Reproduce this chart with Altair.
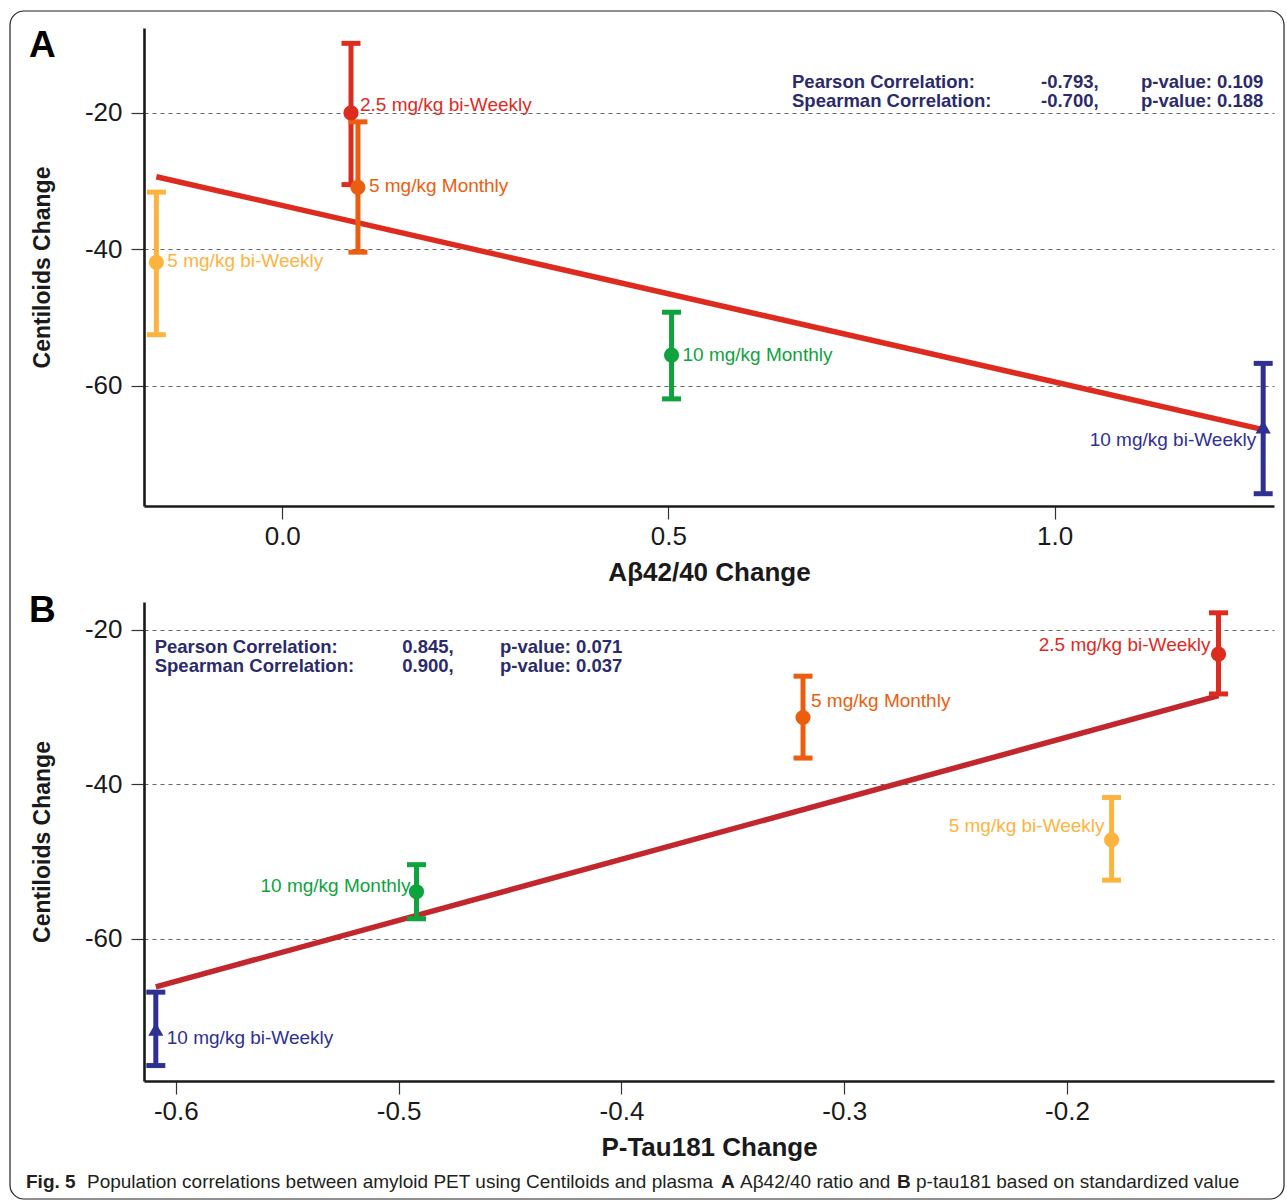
import altair as alt
import pandas as pd

# ---------------- data ----------------
groups = ["2.5 mg/kg bi-Weekly", "5 mg/kg Monthly", "5 mg/kg bi-Weekly",
          "10 mg/kg Monthly", "10 mg/kg bi-Weekly"]

# Panel A: Abeta42/40 change vs Centiloids change
abeta_change = [0.089, 0.098, -0.163, 0.504, 1.270]
abeta_centiloid = [-20.0, -30.9, -41.9, -55.5, -66.0]
abeta_lower = [-30.5, -40.4, -52.5, -61.9, -75.8]
abeta_upper = [-9.8, -21.3, -31.6, -49.2, -56.7]

# Panel B: P-Tau181 change vs Centiloids change
ptau_change = [-0.132, -0.3185, -0.180, -0.492, -0.609]
ptau_centiloid = [-23.15, -31.35, -47.2, -53.9, -71.7]
ptau_lower = [-28.3, -36.6, -52.4, -57.4, -76.4]
ptau_upper = [-17.8, -26.0, -41.7, -50.4, -66.9]

abeta_xticks = [0.0, 0.5, 1.0]
ptau_xticks = [-0.6, -0.5, -0.4, -0.3, -0.2]
y_ticks = [-60, -40, -20]

stats_a = [["Pearson Correlation:", "Spearman Correlation:"],
           ["-0.793,", "-0.700,"],
           ["p-value: 0.109", "p-value: 0.188"]]
stats_b = [["Pearson Correlation:", "Spearman Correlation:"],
           ["0.845,", "0.900,"],
           ["p-value: 0.071", "p-value: 0.037"]]

caption_parts = [("Fig. 5", "bold"),
                 ("Population correlations between amyloid PET using Centiloids and plasma", "normal"),
                 ("A", "bold"), ("A\u03b242/40 ratio and", "normal"),
                 ("B", "bold"), ("p-tau181 based on standardized value", "normal")]

# ---------------- styling ----------------
palette = ["#DD2C1F", "#EB5E0F", "#FDB43F", "#0FA33E", "#2E3192"]
shapes = ["circle", "circle", "circle", "circle", "triangle-up"]
marker_sizes = [230, 230, 230, 230, 330]
FONT = "Liberation Sans"
INK = "#1a1a1a"
STAT_COLOR = "#2B2B6B"
W = 1130
XFMT = "(datum.value < 0 ? '-' : '') + format(abs(datum.value), '.1f')"
YFMT = "(datum.value < 0 ? '-' : '') + format(abs(datum.value), 'd')"


def make_df(xs, ys, lo, hi):
    return pd.DataFrame({"group": groups, "x": xs, "y": ys, "lo": lo, "hi": hi})


def one():
    return alt.Data(values=[{}])


def panel(df, xdom, ydom, xticks, xtitle, line_color, label_specs, stats,
          stats_px, stats_py, letter, letter_y, height, extra=()):
    x_axis = alt.Axis(values=xticks, labelExpr=XFMT, grid=False, title=xtitle,
                      domainColor=INK, domainWidth=2.6, tickColor="#333",
                      tickWidth=1.2, tickSize=13, labelFontSize=26, labelFont=FONT,
                      labelColor=INK, labelPadding=4, titleFontSize=26,
                      titleFont=FONT, titleFontWeight="bold", titleColor=INK,
                      titlePadding=10)
    y_axis = alt.Axis(values=y_ticks, labelExpr=YFMT, grid=True, gridDash=[4, 4],
                      gridColor="#666", gridWidth=1, title="Centiloids Change",
                      domainColor=INK, domainWidth=2.6, tickColor="#333",
                      tickWidth=1.2, tickSize=13, labelFontSize=26, labelFont=FONT,
                      labelColor=INK, labelPadding=9, titleFontSize=23,
                      titleFont=FONT, titleFontWeight="bold", titleColor=INK,
                      titlePadding=30)
    xs = alt.Scale(domain=xdom, nice=False, zero=False)
    ys = alt.Scale(domain=ydom, nice=False, zero=False)

    def X(f):
        return alt.X(f, type="quantitative", scale=xs, axis=x_axis)

    def Y(f):
        return alt.Y(f, type="quantitative", scale=ys, axis=y_axis)

    color = alt.Color("group:N", scale=alt.Scale(domain=groups, range=palette), legend=None)
    shape = alt.Shape("group:N", scale=alt.Scale(domain=groups, range=shapes), legend=None)
    size = alt.Size("group:N", scale=alt.Scale(domain=groups, range=marker_sizes), legend=None)
    base = alt.Chart(df)

    reg = base.transform_regression("x", "y").mark_line(
        color=line_color, strokeWidth=5.5).encode(x=X("x"), y=Y("y"))
    bars = base.mark_rule(strokeWidth=5).encode(x=X("x"), y=Y("lo"), y2="hi:Q", color=color)
    cap_lo = base.mark_tick(orient="horizontal", size=19, thickness=5, opacity=1).encode(
        x=X("x"), y=Y("lo"), color=color)
    cap_hi = base.mark_tick(orient="horizontal", size=19, thickness=5, opacity=1).encode(
        x=X("x"), y=Y("hi"), color=color)
    pts = base.mark_point(filled=True, opacity=1).encode(
        x=X("x"), y=Y("y"), color=color, shape=shape, size=size)

    layers = list(extra) + [reg, bars, cap_lo, cap_hi, pts]
    for g, align, dx, dy in label_specs:
        layers.append(base.transform_filter(alt.datum.group == g).mark_text(
            align=align, baseline="middle", dx=dx, dy=dy, fontSize=19, font=FONT
        ).encode(x=X("x"), y=Y("y"), text="group:N", color=color))

    for lines, px in zip(stats, stats_px):
        layers.append(alt.Chart(one()).mark_text(
            text=lines, align="left", baseline="alphabetic", lineHeight=19,
            fontSize=18.5, fontWeight="bold", font=FONT, color=STAT_COLOR
        ).encode(x=alt.value(px), y=alt.value(stats_py)))

    layers.append(alt.Chart(one()).mark_text(
        text=letter, align="left", baseline="alphabetic", fontSize=37,
        fontWeight="bold", font=FONT, color="#000"
    ).encode(x=alt.value(-115), y=alt.value(letter_y)))

    return alt.layer(*layers).properties(width=W, height=height)


df_a = make_df(abeta_change, abeta_centiloid, abeta_lower, abeta_upper)
df_b = make_df(ptau_change, ptau_centiloid, ptau_lower, ptau_upper)

# outer rounded frame (decoration)
frame = alt.Chart(one()).mark_rect(
    fillOpacity=0, stroke="#222", strokeWidth=1.2, cornerRadius=14
).encode(x=alt.value(-134), x2=alt.value(1140), y=alt.value(-17), y2=alt.value(1171))

labels_a = [(groups[0], "left", 9, -8), (groups[1], "left", 11, -1),
            (groups[2], "left", 11, -1), (groups[3], "left", 11, 0),
            (groups[4], "right", -7, 13)]
labels_b = [(groups[0], "right", -8, -9), (groups[1], "left", 8, -17),
            (groups[2], "right", -7, -14), (groups[3], "right", -6, -6),
            (groups[4], "left", 11, 9)]

# caption (decoration text below panel B)
cap_x = [-118, -57, 577, 596, 753, 772]
caption_layers = []
for (txt, weight), cx in zip(caption_parts, cap_x):
    caption_layers.append(alt.Chart(one()).mark_text(
        text=txt, align="left", baseline="alphabetic", fontSize=19,
        fontWeight=weight, font=FONT, color="#231f20"
    ).encode(x=alt.value(cx), y=alt.value(586)))

panel_a = panel(df_a, [-0.179, 1.284], [-77.6, -7.55], abeta_xticks,
                "A\u03b242/40 Change", "#DD2C1F", labels_a, stats_a,
                [648, 897, 997], 60, "A", 29, 478, extra=[frame])
panel_b = panel(df_b, [-0.6143, -0.1071], [-78.4, -16.4], ptau_xticks,
                "P-Tau181 Change", "#C1272D", labels_b, stats_b,
                [10.7, 258.3, 356], 51, "B", 20, 479)
panel_b = alt.layer(panel_b, *caption_layers)

chart = alt.vconcat(panel_a, panel_b, spacing=96, bounds="flush").resolve_scale(
    x="independent", y="independent"
).properties(
    padding={"left": 9, "top": 10, "right": 0, "bottom": 0}
).configure(font=FONT).configure_view(strokeWidth=0)

chart.save("out.html", embed_options={"renderer": "svg", "actions": False})
